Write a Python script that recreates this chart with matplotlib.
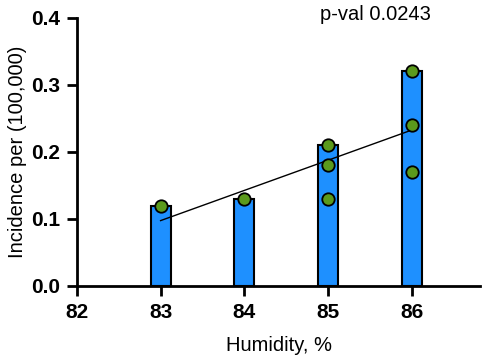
import numpy as np
import matplotlib.pyplot as plt

plt.rcParams['font.family'] = ['Liberation Sans', 'DejaVu Sans']

humidity = [83, 84, 85, 86]
bar_height = [0.12, 0.13, 0.21, 0.32]

pt_x = [83, 84, 85, 85, 85, 86, 86, 86]
pt_y = [0.12, 0.13, 0.21, 0.18, 0.13, 0.32, 0.24, 0.17]

xticks = [82, 83, 84, 85, 86]
yticks = [0.0, 0.1, 0.2, 0.3, 0.4]

fig = plt.figure(figsize=(4.84, 3.57), dpi=100)
ax = fig.add_axes([0.159, 0.199, 0.833, 0.751])

ax.bar(humidity, bar_height, width=0.24, color='#1e90ff', edgecolor='black',
       linewidth=1.5, zorder=2)

# linear fit through all points
slope, icept = np.polyfit(pt_x, pt_y, 1)
fx = np.array([min(pt_x), max(pt_x)])
ax.plot(fx, slope * fx + icept, color='black', linewidth=1, zorder=3)

ax.scatter(pt_x, pt_y, s=80, color='#5b9a1c', edgecolor='black',
           linewidth=1.3, zorder=4, clip_on=False)

ax.set_xlim(82, 86.82)
ax.set_ylim(0, 0.4)
ax.set_xticks(xticks)
ax.set_yticks(yticks)
ax.set_xticklabels([str(v) for v in xticks], fontweight='bold', fontsize=15)
ax.set_yticklabels(['%.1f' % v for v in yticks], fontweight='bold', fontsize=15)

for s in ['top', 'right']:
    ax.spines[s].set_visible(False)
for s in ['left', 'bottom']:
    ax.spines[s].set_linewidth(2)
ax.tick_params(width=2, length=7, direction='out', pad=5)

ax.set_xlabel('Humidity, %', fontsize=14.5, labelpad=10)
ax.set_ylabel('Incidence per (100,000)', fontsize=14.5, labelpad=3)

ax.text(0.74, 1.012, 'p-val 0.0243', transform=ax.transAxes, fontsize=14.5,
        ha='center', va='center')

fig.savefig('out.png', dpi=100)
